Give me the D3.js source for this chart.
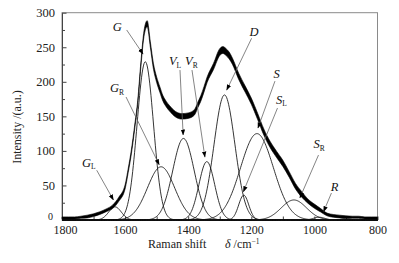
<!DOCTYPE html>
<html><head><meta charset="utf-8">
<script src="https://cdn.jsdelivr.net/npm/d3@7"></script>
<style>body{margin:0;background:#fff}svg{display:block}
svg text{font-family:"Liberation Serif","Times New Roman",Times,"DejaVu Serif",serif;}</style>
</head><body><svg id="c" width="399" height="263"></svg>
<script>
const wavenumbers = [1800,1780,1760,1740,1720,1700,1680,1660,1640,1620,1600,1590,1580,1570,1560,1550,1540,1530,1520,1510,1500,1490,1480,1470,1460,1440,1420,1400,1380,1370,1360,1350,1340,1320,1300,1290,1280,1270,1260,1240,1220,1200,1180,1160,1140,1120,1100,1080,1060,1040,1020,1000,980,960,940,920,900,880,860,840,820,800];
const intensity   = [3,3,3,4,5,7,10,14,19,30,48,72,99,133,170,225,270,284,254,222,203,189,176,168,162,153,150,151,156,166,176,189,203,222,243,246,243,238,230,208,190,172,150,127,109,95,82,66,49,37,27,20,14,8,6,5,4,4,4,3,3,3];
const noiseHalf   = [1.5,1.5,1.5,1.5,2,2,2,2,2.5,3,3,3,3,3,3,3.5,4,4.5,4,4,4,4,4,4,4,4,4,4,4,4,4,4,4,4.5,5,5,5,5,4.5,4.5,4.5,4.5,4.5,4.5,4.5,4.5,4.5,4,4,4,3,3,2.5,2,2,2,2,1.5,1.5,1.5,1.5,1.5];

// ---- fitted Gaussian components (peak position, height, sigma) ----
const peakNames   = ["GL","G","GR","VL","VR","D","SL","S","SR","R"];
const peakCenters = [1632,1536,1486,1415,1341,1285,1224,1182,1065,985];
const peakHeights = [19,229,77,118,84.5,181,36,125,29,4];
const peakSigmas  = [20,26,43,34,25,33,16,52,40,18];

// ---- annotations (data units) ----
const annMain   = ["G","G","G","V","V","D","S","S","S","R"];
const annSub    = ["L","","R","L","R","","","L","R",""];
const annLabelX = [1737,1639,1648,1461,1410,1206,1130,1122,1003,948];
const annLabelY = [77,274,185,224,224,266,205,168,104,42];
const annFromX  = [1690,1595,1597,1426,1388,1199,1125,1117,987,946];
const annFromY  = [72,275,178,217,217,263,201,162,94,39];
const annToX    = [1637,1543,1492,1416,1347,1278,1179,1225,1046,971];
const annToY    = [29,240,80,123,91,188,133,41,32,12];

// ---- axes ticks ----
const xTickValues = [1800,1700,1600,1500,1400,1300,1200,1100,1000,900,800];
const xTickLabels = ["1800","","1600","","1400","","1200","","1000","","800"];
const yTickValues = [0,25,50,75,100,125,150,175,200,225,250,275,300];
const yTickLabels = ["0","","50","","100","","150","","200","","250","","300"];

const svg = d3.select("#c");
const mLeft = 62, mRight = 377.5, mTop = 12.7, mBottom = 220;
const x = d3.scaleLinear().domain([1800, 800]).range([mLeft, mRight]);
const y = d3.scaleLinear().domain([0, 300]).range([mBottom, mTop]);
const serif = "Liberation Serif, Times New Roman, Times, DejaVu Serif, serif";

// frame
svg.append("rect").attr("x", mLeft).attr("y", mTop).attr("width", mRight-mLeft).attr("height", mBottom-mTop)
  .attr("fill", "none").attr("stroke", "#8a8a8a").attr("stroke-width", 1);

// x axis
const xAxis = d3.axisBottom(x).tickValues(xTickValues)
  .tickFormat((d,i) => xTickLabels[i]).tickSizeInner(-3.5).tickSizeOuter(0).tickPadding(5);
const gx = svg.append("g").attr("transform", `translate(0,${mBottom})`).call(xAxis);
gx.attr("font-family", serif);
gx.select(".domain").attr("stroke", "#444");
gx.selectAll(".tick line").attr("stroke", "#444");
gx.selectAll("text").attr("font-size", 12).attr("fill", "#222")
  .attr("dx", (d,i) => i === 0 ? 3 : 0);

// y axis
const yAxis = d3.axisLeft(y).tickValues(yTickValues)
  .tickFormat((d,i) => yTickLabels[i]).tickSizeInner(-4).tickSizeOuter(0).tickPadding(7);
const gy = svg.append("g").attr("transform", `translate(${mLeft},0)`).call(yAxis);
gy.attr("font-family", serif);
gy.select(".domain").attr("stroke", "#444");
gy.selectAll(".tick line").attr("stroke", "#444").attr("x2", (d,i) => yTickLabels[i] ? 4.5 : 3);
gy.selectAll("text").attr("font-size", (d,i) => i === 0 ? 10 : 12.5).attr("fill", "#222")
  .attr("x", (d,i) => i === 0 ? -9 : -7).attr("dy", (d,i) => i === 0 ? "-0.05em" : "0.32em");

// axis titles
svg.append("text").attr("transform", "translate(21,127) rotate(-90)").attr("text-anchor", "middle")
  .attr("font-size", 12).attr("fill", "#222").text("Intensity /(a.u.)");
svg.append("text").attr("x", 148).attr("y", 248).attr("font-size", 12)
  .attr("fill", "#222").text("Raman shift");
const t2 = svg.append("text").attr("x", 225).attr("y", 248).attr("font-size", 12).attr("fill", "#222");
t2.append("tspan").attr("font-style", "italic").text("δ");
t2.append("tspan").text(" /cm");
t2.append("tspan").attr("font-size", 7.5).attr("dy", -4.5).text("−1");

// components
const grid = d3.range(1800, 799, -2);
const compLine = d3.line().x(d => x(d[0])).y(d => y(d[1]));
peakCenters.forEach((c, i) => {
  const pts = grid.map(v => [v, peakHeights[i] * Math.exp(-((v - c) ** 2) / (2 * peakSigmas[i] ** 2))]);
  svg.append("path").attr("d", compLine(pts)).attr("fill", "none")
    .attr("stroke", "#111").attr("stroke-width", 0.85);
});

// spectrum band
const spec = wavenumbers.map((v, i) => ({v, I: intensity[i], h: noiseHalf[i]}));
const area = d3.area().x(d => x(d.v)).y0(d => y(Math.max(0, d.I - d.h))).y1(d => y(d.I + d.h))
  .curve(d3.curveMonotoneX);
svg.append("path").attr("d", area(spec)).attr("fill", "#000").attr("stroke", "#000").attr("stroke-width", 0.6);

// arrow marker
svg.append("defs").append("marker").attr("id", "arr").attr("markerUnits", "userSpaceOnUse")
  .attr("viewBox", "0 -3 6 6").attr("refX", 5.5).attr("refY", 0)
  .attr("markerWidth", 6).attr("markerHeight", 6).attr("orient", "auto")
  .append("path").attr("d", "M0,-2.2L6,0L0,2.2Z").attr("fill", "#000");

// annotations
annMain.forEach((m, i) => {
  svg.append("line").attr("x1", x(annFromX[i])).attr("y1", y(annFromY[i]))
    .attr("x2", x(annToX[i])).attr("y2", y(annToY[i]))
    .attr("stroke", "#666").attr("stroke-width", 0.8).attr("marker-end", "url(#arr)");
  const t = svg.append("text").attr("x", x(annLabelX[i])).attr("y", y(annLabelY[i]))
    .attr("font-size", 12.5).attr("fill", "#111");
  t.append("tspan").attr("font-style", "italic").text(m);
  if (annSub[i]) t.append("tspan").attr("font-size", 7.5).attr("dy", 2.5).text(annSub[i]);
});
</script></body></html>
